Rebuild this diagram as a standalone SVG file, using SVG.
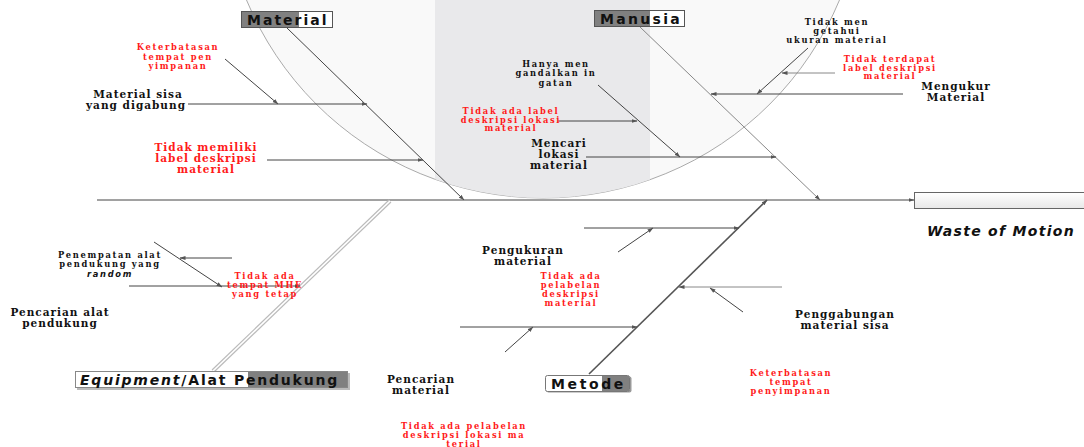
<svg xmlns="http://www.w3.org/2000/svg" width="1084" height="447" viewBox="0 0 1084 447">
<style>
.b{font-family:"DejaVu Serif",serif;font-weight:bold;fill:#111;font-size:10.5px;letter-spacing:1px;text-anchor:middle}
.s{font-size:8.3px;letter-spacing:1.7px}
.r{fill:#ff1a1a}
.bx{font-family:"DejaVu Sans",sans-serif;font-weight:bold;font-size:14px;fill:#111}
.ln{stroke:#444;stroke-width:1;fill:none}
.lg{stroke:#888;stroke-width:1;fill:none}
.ar{marker-end:url(#ah)}
</style>
<defs>
<marker id="ah" markerWidth="6" markerHeight="5" refX="5.5" refY="2.5" orient="auto" markerUnits="userSpaceOnUse"><path d="M0,0.5 L6,2.5 L0,4.5 z" fill="#555"/></marker>
<clipPath id="cc"><circle cx="543" cy="-123" r="321"/></clipPath>
<linearGradient id="wg" x1="0" y1="0" x2="0" y2="1"><stop offset="0" stop-color="#ffffff"/><stop offset="1" stop-color="#e8e8e8"/></linearGradient>
</defs>
<rect width="1084" height="447" fill="#ffffff"/>
<g id="background">
<circle cx="543" cy="-123" r="321" fill="#f9f9f9" stroke="#aaa" stroke-width="1"/>
<rect x="435" y="0" width="215" height="200" fill="#e9e9eb" clip-path="url(#cc)"/>
</g>
<g id="connectors">
<line class="ln ar" x1="97" y1="200" x2="914" y2="200" stroke="#555"/>
<line class="ln ar" x1="287" y1="28" x2="464" y2="200" stroke="#333"/>
<line class="lg ar" x1="640" y1="27" x2="820" y2="200"/>
<line x1="213" y1="371" x2="390" y2="201" stroke="#bbb" stroke-width="4"/>
<line x1="213" y1="371" x2="390" y2="201" stroke="#fff" stroke-width="1.6"/>
<line class="ar" x1="589" y1="374" x2="767" y2="200" stroke="#555" stroke-width="1.6"/>
<line class="ln ar" x1="188" y1="104" x2="367" y2="104" stroke="#666"/>
<line class="ln ar" x1="225" y1="59" x2="278" y2="104"/>
<line class="ln ar" x1="267" y1="160" x2="423" y2="160"/>
<line class="ln ar" x1="558" y1="121" x2="637" y2="121"/>
<line class="ln ar" x1="598" y1="85" x2="680" y2="157" stroke="#333"/>
<line class="ln ar" x1="586" y1="157" x2="776" y2="157"/>
<line class="ln ar" x1="903" y1="94" x2="711" y2="94" stroke="#555"/>
<line class="ln ar" x1="808" y1="48" x2="757" y2="94" stroke="#333" stroke-width="1.4"/>
<line class="lg ar" x1="835" y1="73" x2="782" y2="73" stroke="#777"/>
<line class="ln ar" x1="129" y1="286" x2="300" y2="286"/>
<line class="ln ar" x1="154" y1="242" x2="222" y2="287"/>
<line class="ln ar" x1="232" y1="258" x2="180" y2="258"/>
<line class="ln ar" x1="584" y1="228" x2="739" y2="228"/>
<line class="ln ar" x1="618" y1="252" x2="653" y2="228" stroke="#555" stroke-width="1.6"/>
<line class="lg ar" x1="782" y1="287" x2="679" y2="287" stroke="#777" stroke-width="1.4"/>
<line class="ln ar" x1="743" y1="312" x2="710" y2="288"/>
<line class="ln ar" x1="460" y1="327" x2="637" y2="327" stroke="#555"/>
<line class="ln ar" x1="505" y1="352" x2="533" y2="327" stroke="#555" stroke-width="1.6"/>
</g>
<g id="head">
<rect x="914.5" y="192.5" width="175" height="16" fill="url(#wg)" stroke="#666"/>
<text x="1001" y="236" font-family="DejaVu Sans,sans-serif" font-weight="bold" font-style="italic" font-size="14" letter-spacing="1.3" text-anchor="middle" fill="#111">Waste of Motion</text>
</g>
<g id="material">
<rect x="241.5" y="11.5" width="91" height="16" fill="#fff" stroke="#555"/>
<rect x="242" y="12" width="57" height="15" fill="#808080"/>
<text class="bx" x="247" y="25" letter-spacing="2">Material</text>
</g>
<g id="manusia">
<rect x="594.5" y="10.5" width="90" height="16" fill="#fff" stroke="#555"/>
<rect x="595" y="11" width="55" height="15" fill="#808080"/>
<text class="bx" x="600" y="24" letter-spacing="2.3">Manusia</text>
</g>
<g id="equipment">
<rect x="77" y="373" width="273" height="17" fill="#bbb"/>
<rect x="75.5" y="371.5" width="272" height="16" fill="#fff" stroke="#888"/>
<rect x="248" y="372" width="99" height="15" fill="#808080"/>
<text class="bx" x="80" y="385" letter-spacing="1.8"><tspan font-style="italic">Equipment</tspan>/Alat Pendukung</text>
</g>
<g id="metode">
<rect x="546.5" y="376.5" width="85" height="16" rx="2" fill="#999"/>
<rect x="545.5" y="375.5" width="84" height="16" rx="2" fill="#fff" stroke="#777"/>
<path d="M602,376 H629 V391 H602 Z" fill="#808080"/>
<text class="bx" x="551" y="389" letter-spacing="2.6">Metode</text>
</g>
<g id="c-keterbatasan1"><text class="b s r"><tspan x="178" y="50">Keterbatasan</tspan><tspan x="178" y="60">tempat pen</tspan><tspan x="178" y="69">yimpanan</tspan></text></g>
<g id="c-materialsisa"><text class="b"><tspan x="138" y="98">Material sisa</tspan><tspan x="136" y="109">yang digabung</tspan></text></g>
<g id="c-tidakmemiliki"><text class="b r"><tspan x="206" y="151">Tidak memiliki</tspan><tspan x="206" y="162">label deskripsi</tspan><tspan x="206" y="173">material</tspan></text></g>
<g id="c-hanya"><text class="b s"><tspan x="556" y="67">Hanya men</tspan><tspan x="556" y="76">gandalkan in</tspan><tspan x="556" y="86">gatan</tspan></text></g>
<g id="c-tidakadalabel"><text class="b s r"><tspan x="511" y="114">Tidak ada label</tspan><tspan x="511" y="123">deskripsi lokasi</tspan><tspan x="511" y="131">material</tspan></text></g>
<g id="c-mencari"><text class="b"><tspan x="559" y="147">Mencari</tspan><tspan x="559" y="158">lokasi</tspan><tspan x="559" y="169">material</tspan></text></g>
<g id="c-tidakmen"><text class="b s"><tspan x="837" y="25">Tidak men</tspan><tspan x="837" y="34">getahui</tspan><tspan x="837" y="43">ukuran material</tspan></text></g>
<g id="c-tidakterdapat"><text class="b s r"><tspan x="890" y="62">Tidak terdapat</tspan><tspan x="890" y="71">label deskripsi</tspan><tspan x="890" y="79">material</tspan></text></g>
<g id="c-mengukur"><text class="b"><tspan x="956" y="90">Mengukur</tspan><tspan x="956" y="101">Material</tspan></text></g>
<g id="c-penempatan"><text class="b s"><tspan x="110" y="258">Penempatan alat</tspan><tspan x="110" y="267">pendukung yang</tspan><tspan x="110" y="277" font-family="DejaVu Sans,sans-serif" font-style="italic">random</tspan></text></g>
<g id="c-mhe"><text class="b s r"><tspan x="265" y="279">Tidak ada</tspan><tspan x="265" y="288">tempat MHE</tspan><tspan x="265" y="297">yang tetap</tspan></text></g>
<g id="c-pencarianalat"><text class="b"><tspan x="60" y="316">Pencarian alat</tspan><tspan x="60" y="327">pendukung</tspan></text></g>
<g id="c-pengukuran"><text class="b"><tspan x="523" y="254">Pengukuran</tspan><tspan x="523" y="265">material</tspan></text></g>
<g id="c-tidakadapelabelan"><text class="b s r"><tspan x="571" y="279">Tidak ada</tspan><tspan x="571" y="288">pelabelan</tspan><tspan x="571" y="297">deskripsi</tspan><tspan x="571" y="306">material</tspan></text></g>
<g id="c-penggabungan"><text class="b"><tspan x="845" y="318">Penggabungan</tspan><tspan x="845" y="329">material sisa</tspan></text></g>
<g id="c-keterbatasan2"><text class="b s r"><tspan x="791" y="376">Keterbatasan</tspan><tspan x="791" y="385">tempat</tspan><tspan x="791" y="394">penyimpanan</tspan></text></g>
<g id="c-pencarianmaterial"><text class="b"><tspan x="421" y="383">Pencarian</tspan><tspan x="421" y="394">material</tspan></text></g>
<g id="c-lokasima"><text class="b s r"><tspan x="464" y="429">Tidak ada pelabelan</tspan><tspan x="464" y="438">deskripsi lokasi ma</tspan><tspan x="464" y="447">terial</tspan></text></g>
</svg>
